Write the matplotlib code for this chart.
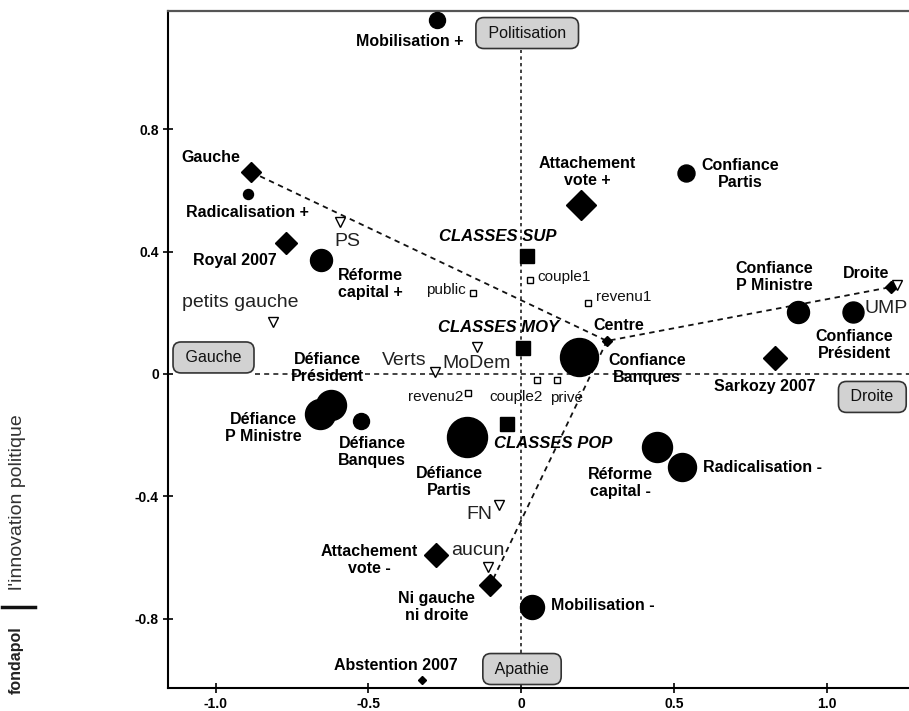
import matplotlib.pyplot as plt
from matplotlib.lines import Line2D

# ----------------------------
# data (coordinates on the two factorial axes)
# ----------------------------

# opinions / attitudes (circles, diameter = weight)
circle_labels = ["Mobilisation +", "Radicalisation +", "Réforme\ncapital +", "Confiance\nPartis",
                 "Confiance\nP Ministre", "Confiance\nPrésident", "Confiance\nBanques",
                 "Défiance\nPrésident", "Défiance\nP Ministre", "Défiance\nBanques",
                 "Défiance\nPartis", "Réforme\ncapital -", "Radicalisation -", "Mobilisation -"]
circle_x = [-0.275, -0.894, -0.655, 0.540, 0.906, 1.087, 0.190, -0.622, -0.658, -0.524,
            -0.177, 0.445, 0.527, 0.036]
circle_y = [1.157, 0.588, 0.373, 0.657, 0.203, 0.203, 0.056, -0.101, -0.131, -0.154,
            -0.206, -0.239, -0.304, -0.761]
circle_weight = [16, 10, 22, 17, 22, 21, 38, 30, 30, 16, 40, 30, 28, 24]

# positionnement / vote (diamonds)
diamond_labels = ["Gauche", "Royal 2007", "Attachement\nvote +", "Centre", "Droite",
                  "Sarkozy 2007", "Attachement\nvote -", "Ni gauche\nni droite", "Abstention 2007"]
diamond_x = [-0.884, -0.769, 0.196, 0.281, 1.211, 0.831, -0.278, -0.101, -0.324]
diamond_y = [0.660, 0.428, 0.552, 0.108, 0.284, 0.052, -0.592, -0.690, -1.000]
diamond_weight = [19, 21, 30, 10, 11, 24, 23, 22, 8]

# partis (triangles, illustrative)
party_labels = ["PS", "petits gauche", "MoDem", "Verts", "FN", "aucun", "UMP"]
party_x = [-0.592, -0.812, -0.145, -0.282, -0.072, -0.108, 1.231]
party_y = [0.497, 0.170, 0.089, 0.007, -0.428, -0.631, 0.291]

# classes sociales (filled squares)
class_labels = ["CLASSES SUP", "CLASSES MOY", "CLASSES POP"]
class_x = [0.020, 0.006, -0.046]
class_y = [0.386, 0.086, -0.163]

# autres variables illustratives (hollow squares)
other_labels = ["couple1", "public", "revenu1", "revenu2", "couple2", "privé"]
other_x = [0.030, -0.157, 0.219, -0.173, 0.052, 0.118]
other_y = [0.307, 0.265, 0.232, -0.062, -0.020, -0.020]

# axis poles
pole_labels = ["Politisation", "Gauche", "Droite", "Apathie"]
pole_x = [0.02, -1.007, 1.15, 0.003]
pole_y = [1.114, 0.054, -0.075, -0.964]

# dashed paths between diamonds
paths = [["Gauche", "Centre", "Droite"], ["Centre", "Ni gauche\nni droite"]]

xticks = [-1.0, -0.5, 0, 0.5, 1.0]
xtick_labels = ["-1.0", "-0.5", "0", "0.5", "1.0"]
yticks = [0.8, 0.4, 0, -0.4, -0.8]
ytick_labels = ["0.8", "0.4", "0", "-0.4", "-0.8"]

# label offsets in pixels (dx, dy up)
circle_off = [(-27, -22), (-1, -18), (49, -24), (54, -1), (-24, 35), (1, -33), (68, -12),
              (-4, 37), (-57, -14), (11, -31), (-18, -45), (-37, -36), (80, 0), (71, 1)]
diamond_off = [(-40, 14), (-51, -18), (6, 33), (12, 15), (-25, 14), (-10, -28), (-67, -5),
               (-54, -22), (-26, 15)]
party_off = [(7, -20), (-33, 19), (0, -17), (-31, 11), (-20, -10), (-10, 17), (-11, -24)]
class_off = [(-29, 19), (-24, 20), (46, -20)]
other_off = [(34, 3), (-27, 3), (36, 6), (-33, -4), (-21, -17), (9, -18)]

# ----------------------------
# figure
# ----------------------------

plt.rcParams['font.family'] = ['Liberation Sans', 'DejaVu Sans']

fig = plt.figure(figsize=(9.09, 7.11), dpi=100)
ax = fig.add_axes([168 / 909, 1 - 688 / 711, 1 - 168 / 909, (688 - 11) / 711])
ax.set_xlim(-1.156, 1.27)
ax.set_ylim(-1.026, 1.186)

PX = 0.72  # points per pixel

# central axes (dotted)
ax.plot([0, 0], [-0.911, 1.059], color='#222', lw=1.2, ls=(0, (2, 2)), zorder=1)
ax.plot([-0.87, 1.27], [0, 0], color='#222', lw=1.2, ls=(0, (3, 2.5)), zorder=1)

# dashed paths
dmap = {lab: (x, y) for lab, x, y in zip(diamond_labels, diamond_x, diamond_y)}
for p in paths:
    ax.plot([dmap[k][0] for k in p], [dmap[k][1] for k in p], color='#111', lw=1.3,
            ls=(0, (3, 2.5)), zorder=1)


def put_labels(xs, ys, labels, offs, **kw):
    for x, y, lab, (dx, dy) in zip(xs, ys, labels, offs):
        ax.annotate(lab, (x, y), xytext=(dx, dy), textcoords='offset pixels',
                    ha='center', va='center', linespacing=1.15, zorder=5, **kw)


for x, y, w in zip(circle_x, circle_y, circle_weight):
    ax.plot(x, y, 'o', ms=w * PX, color='black', mec='black', zorder=3)
for x, y, w in zip(diamond_x, diamond_y, diamond_weight):
    ax.plot(x, y, 'D', ms=w * PX / 1.414, color='black', zorder=3)
ax.plot(party_x, party_y, 'v', ms=6.5, mfc='white', mec='black', mew=1.0, ls='none', zorder=3)
ax.plot(class_x, class_y, 's', ms=9.4, color='black', ls='none', zorder=3)
ax.plot(other_x, other_y, 's', ms=5, mfc='white', mec='black', mew=1.0, ls='none', zorder=3)

put_labels(circle_x, circle_y, circle_labels, circle_off, fontsize=11.5, fontweight='bold')
put_labels(diamond_x, diamond_y, diamond_labels, diamond_off, fontsize=11.5, fontweight='bold')
put_labels(party_x, party_y, party_labels, party_off, fontsize=14, color='#222')
put_labels(class_x, class_y, class_labels, class_off, fontsize=12, fontweight='bold',
           fontstyle='italic')
put_labels(other_x, other_y, other_labels, other_off, fontsize=11, color='#111')

for lab, x, y in zip(pole_labels, pole_x, pole_y):
    ax.text(x, y, " " + lab + " ", ha='center', va='center', fontsize=11.5, color='#111',
            zorder=6,
            bbox=dict(boxstyle='round,pad=0.5', fc='#d2d2d2', ec='#333', lw=1.2))

# spines & ticks
ax.spines['right'].set_visible(False)
ax.spines['top'].set_color('#555')
ax.spines['top'].set_linewidth(1.6)
ax.spines['left'].set_linewidth(1.5)
ax.spines['bottom'].set_linewidth(1.5)
ax.set_xticks(xticks)
ax.set_xticklabels(xtick_labels)
ax.set_yticks(yticks)
ax.set_yticklabels(ytick_labels)
ax.tick_params(direction='inout', length=7, width=1.2, labelsize=10, pad=3)
for t in ax.get_xticklabels() + ax.get_yticklabels():
    t.set_fontweight('bold')

# fondapol branding
fig.text(16 / 909, 1 - 660 / 711, "fondapol", rotation=90, ha='center', va='center',
         fontsize=11.5, fontweight='bold', color='#222')
fig.text(18 / 909, 1 - 502 / 711, "l'innovation politique", rotation=90, ha='center',
         va='center', fontsize=14, color='#333')
fig.add_artist(Line2D([2 / 909, 35 / 909], [1 - 607 / 711, 1 - 607 / 711], color='#111',
                      lw=2.5))

fig.savefig("out.png", dpi=100)
